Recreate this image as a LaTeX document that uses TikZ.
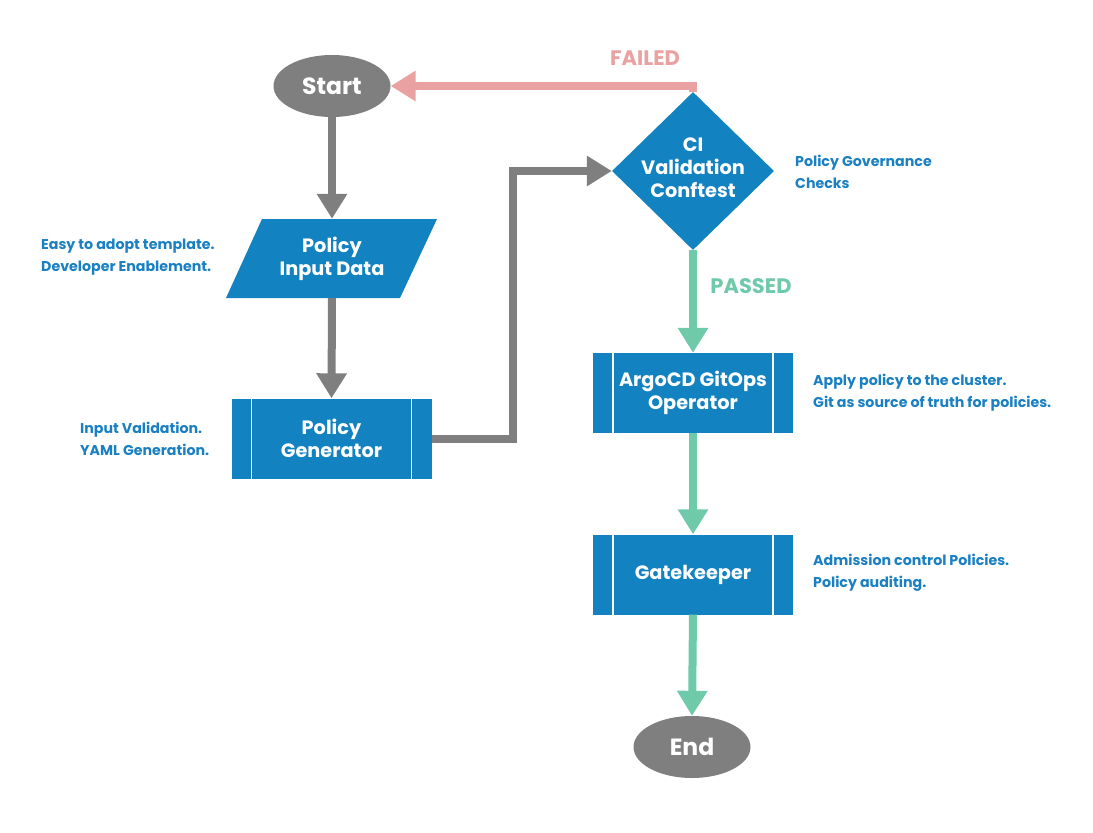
\documentclass[tikz,border=0pt]{standalone}
\usepackage{fontspec}
\setmainfont{Poppins}
\usetikzlibrary{shapes.geometric,arrows.meta,calc}
\definecolor{nodeblue}{HTML}{1283C0}
\definecolor{textblue}{HTML}{1A80C2}
\definecolor{flowgray}{HTML}{7F7F7F}
\definecolor{flowgreen}{HTML}{6FCAAA}
\definecolor{flowred}{HTML}{EAA1A1}
\tikzset{
  terminal/.style={ellipse, fill=flowgray, text=white, inner sep=0pt,
    minimum width=117pt, minimum height=62pt, font=\fontsize{23.5}{27}\selectfont\bfseries},
  procbox/.style={rectangle, fill=nodeblue, text=white, inner sep=0pt,
    minimum width=200pt, minimum height=80pt, align=center,
    font=\fontsize{19.3}{23}\selectfont\bfseries,
    path picture={
      \draw[white, line width=1.5pt]
        ([xshift=20pt]path picture bounding box.north west) -- ([xshift=20pt]path picture bounding box.south west)
        ([xshift=-20pt]path picture bounding box.north east) -- ([xshift=-20pt]path picture bounding box.south east);
    }},
  nodetext/.style={text=white, align=center, font=\fontsize{19.3}{23}\selectfont\bfseries},
  note/.style={anchor=west, text=textblue, align=left, inner sep=0pt,
    font=\fontsize{14.2}{22}\selectfont\bfseries},
  flow/.style={line width=8pt, -{Triangle[width=29pt,length=25pt]}},
  flowlabel/.style={font=\fontsize{21}{24}\selectfont\bfseries}
}
\begin{document}
\begin{tikzpicture}[x=1pt,y=-1pt]
\useasboundingbox (0,0) rectangle (1093,833);

% nodes
\node[terminal] (start) at (332,86) {Start};
\coordinate (pid) at (332,258.5);
\fill[nodeblue] (262,219) -- (437,219) -- (400,298) -- (226,298) -- cycle;
\node[nodetext, minimum height=79pt, minimum width=140pt, inner sep=0pt] (pidn) at (pid) {Policy\\Input Data};
\node[procbox] (gen) at (331.5,438.5) {Policy\\Generator};
\node[diamond, fill=nodeblue, inner sep=0pt, aspect=1.03, minimum width=162pt, minimum height=158pt] (ci) at (693,171) {};
\node[nodetext] (citext) at ([yshift=3pt]ci.center) {CI\\Validation\\Conftest};
\node[procbox] (argo) at (693,393) {ArgoCD GitOps\\Operator};
\node[procbox] (gate) at (693,574.5) {Gatekeeper};
\node[terminal] (end) at (692,747) {End};

% notes
\node[note] (n1) at (41,257) {Easy to adopt template.\\Developer Enablement.};
\node[note] (n2) at (80,439) {Input Validation.\\YAML Generation.};
\node[note] (n3) at (795,172) {Policy Governance\\Checks};
\node[note] (n4) at (813,393) {Apply policy to the cluster.\\Git as source of truth for policies.};
\node[note] (n5) at (813,573) {Admission control Policies.\\Policy auditing.};

% labels
\node[flowlabel, text=flowred] (failed) at (645,58) {FAILED};
\node[flowlabel, text=flowgreen] (passed) at (751,286) {PASSED};

% connectors
\draw[flow, flowgray] (start.south) -- (pidn.north);
\draw[flow, flowgray] (pidn.south) -- (gen.north);
\draw[flow, flowgray] (gen.east) -- ++(81,0) |- (ci.west);
\draw[flow, flowred] (ci.north) |- (start.east);
\draw[flow, flowgreen] (ci.south) -- (argo.north);
\draw[flow, flowgreen] (argo.south) -- (gate.north);
\draw[flow, flowgreen] (gate.south) -- (end.north);
\end{tikzpicture}
\end{document}
